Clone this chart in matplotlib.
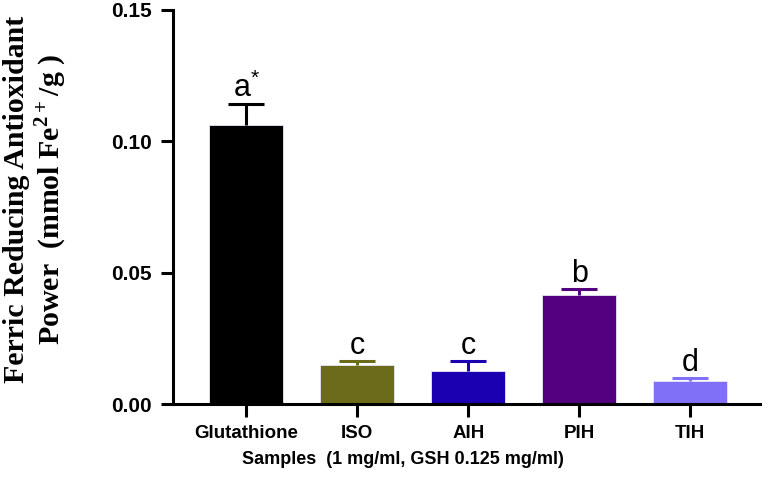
import numpy as np
from matplotlib import pyplot as plt

samples = ['Glutathione', 'ISO', 'AIH', 'PIH', 'TIH']
frap = [0.1062, 0.0148, 0.0126, 0.0414, 0.0088]
frap_err = [0.0079, 0.0015, 0.0037, 0.0024, 0.0012]
letters = ['a$^{\\mathrm{*}}$', 'c', 'c', 'b', 'd']
colors = ['#000000', '#6b6b1a', '#1a00b0', '#52007f', '#8070f8']

plt.rcParams['font.family'] = ['Liberation Sans', 'DejaVu Sans']
plt.rcParams['mathtext.fontset'] = 'custom'
plt.rcParams['mathtext.rm'] = 'Liberation Sans'
plt.rcParams['mathtext.bf'] = 'Liberation Serif:bold'


def main():
    fig = plt.figure(figsize=(7.67, 5), dpi=100)
    ax = fig.add_axes([0.2256, 0.192, 0.7654, 0.788])
    x = np.arange(len(samples))

    ax.bar(x, frap, width=0.667, color=colors, edgecolor='#e6e6f5', linewidth=0.6, zorder=2)
    for i in range(len(samples)):
        _, caps, _ = ax.errorbar(x[i], frap[i], yerr=[[0], [frap_err[i]]], fmt='none', ecolor=colors[i],
                                 elinewidth=2.2, capsize=13, capthick=2.2, zorder=3)
        # only the upper cap, GraphPad style
        caps[0].set_visible(False)
        ax.annotate(letters[i], (x[i], frap[i] + frap_err[i]), xytext=(0, 5), textcoords='offset points',
                    ha='center', va='baseline', fontsize=22)

    ax.set_xlim(-0.66, 4.63)
    ax.set_ylim(0, 0.15)
    ax.set_yticks([0, 0.05, 0.10, 0.15])
    ax.set_yticklabels(['0.00', '0.05', '0.10', '0.15'])
    ax.set_xticks(x)
    ax.set_xticklabels(samples)
    for s in ['top', 'right']:
        ax.spines[s].set_visible(False)
    for s in ['left', 'bottom']:
        ax.spines[s].set_linewidth(2.2)
    ax.tick_params(width=2.2, length=9, pad=6)
    ax.tick_params(axis='x', labelsize=13.5)
    ax.tick_params(axis='y', labelsize=15)
    for lab in ax.get_xticklabels() + ax.get_yticklabels():
        lab.set_fontweight('bold')

    fig.text(0.525, 0.08, 'Samples  (1 mg/ml, GSH 0.125 mg/ml)', ha='center', va='center',
             fontsize=13, fontweight='bold')
    fig.text(0.047, 0.602, 'Ferric Reducing Antioxidant\nPower  (mmol Fe$^{\\mathbf{2+}}$/g )',
             rotation=90, ha='center', va='center', multialignment='center',
             fontsize=21.5, fontweight='bold', family='Liberation Serif', linespacing=1.1)

    fig.savefig('out.png', dpi=100)


if __name__ == '__main__':
    main()
